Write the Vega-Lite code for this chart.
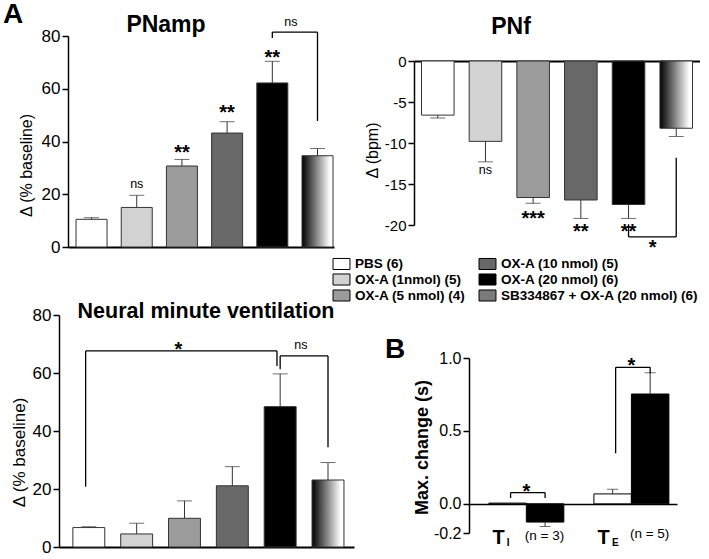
{
"$schema": "https://vega.github.io/schema/vega-lite/v6.json",
"background": "white",
"padding": {"left": 3, "top": 1, "right": 0, "bottom": 0},
"config": {
 "font": "Liberation Sans",
 "view": {"stroke": null},
 "axis": {"grid": false, "domainColor": "#000", "domainWidth": 1.5, "tickColor": "#000", "tickWidth": 1.5, "tickSize": 6, "labelColor": "#000", "titleColor": "#000", "labelFont": "Liberation Sans", "titleFont": "Liberation Sans", "titleFontWeight": "normal", "labelPadding": 2, "titlePadding": 4},
 "title": {"font": "Liberation Sans", "color": "#000", "fontWeight": "bold"},
 "text": {"font": "Liberation Sans", "color": "#000"}
},
"title": {"text": "A", "anchor": "start", "fontSize": 28, "offset": -37, "dx": -7, "baseline": "alphabetic"},
"datasets": {
 "pnamp": [
  {"group": "PBS (6)", "mean": 10.5, "tip": 11.1},
  {"group": "OX-A (1nmol) (5)", "mean": 15.0, "tip": 19.6},
  {"group": "OX-A (5 nmol) (4)", "mean": 30.7, "tip": 33.2},
  {"group": "OX-A (10 nmol) (5)", "mean": 43.2, "tip": 47.5},
  {"group": "OX-A (20 nmol) (6)", "mean": 62.2, "tip": 70.4},
  {"group": "SB334867 + OX-A (20 nmol) (6)", "mean": 34.6, "tip": 37.3}
 ],
 "pnamp_br": [
  {"a": "OX-A (20 nmol) (6)", "b": "SB334867 + OX-A (20 nmol) (6)", "y1": 81.5, "y2": 81.5},
  {"a": "OX-A (20 nmol) (6)", "b": "OX-A (20 nmol) (6)", "y1": 79.2, "y2": 81.5},
  {"a": "SB334867 + OX-A (20 nmol) (6)", "b": "SB334867 + OX-A (20 nmol) (6)", "y1": 47.8, "y2": 81.5}
 ],
 "pnamp_star": [
  {"g": "OX-A (5 nmol) (4)", "y": 37.6, "t": "**"},
  {"g": "OX-A (10 nmol) (5)", "y": 52.8, "t": "**"},
  {"g": "OX-A (20 nmol) (6)", "y": 73.7, "t": "**"}
 ],
 "pnamp_ns": [{"g": "OX-A (1nmol) (5)", "y": 24.0, "t": "ns"}],
 "pnamp_ns2": [{"g": "OX-A (20 nmol) (6)", "y": 85.4, "t": "ns"}],
 "pnf": [
  {"group": "PBS (6)", "mean": -6.6, "tip": -6.95},
  {"group": "OX-A (1nmol) (5)", "mean": -9.8, "tip": -12.3},
  {"group": "OX-A (5 nmol) (4)", "mean": -16.65, "tip": -17.35},
  {"group": "OX-A (10 nmol) (5)", "mean": -16.95, "tip": -19.2},
  {"group": "OX-A (20 nmol) (6)", "mean": -17.5, "tip": -19.2},
  {"group": "SB334867 + OX-A (20 nmol) (6)", "mean": -8.2, "tip": -9.2}
 ],
 "pnf_br": [
  {"a": "OX-A (20 nmol) (6)", "b": "SB334867 + OX-A (20 nmol) (6)", "y1": -21.45, "y2": -21.45},
  {"a": "OX-A (20 nmol) (6)", "b": "OX-A (20 nmol) (6)", "y1": -19.9, "y2": -21.45},
  {"a": "SB334867 + OX-A (20 nmol) (6)", "b": "SB334867 + OX-A (20 nmol) (6)", "y1": -11.8, "y2": -21.45}
 ],
 "pnf_star": [
  {"g": "OX-A (5 nmol) (4)", "y": -18.6, "t": "***"},
  {"g": "OX-A (10 nmol) (5)", "y": -20.2, "t": "**"},
  {"g": "OX-A (20 nmol) (6)", "y": -20.2, "t": "**"}
 ],
 "pnf_ns": [{"g": "OX-A (1nmol) (5)", "y": -13.3, "t": "ns"}],
 "pnf_star2": [{"g": "OX-A (20 nmol) (6)", "y": -22.2, "t": "*"}],
 "nmv": [
  {"group": "PBS (6)", "mean": 6.7, "tip": 7.0},
  {"group": "OX-A (1nmol) (5)", "mean": 4.5, "tip": 8.2},
  {"group": "OX-A (5 nmol) (4)", "mean": 9.9, "tip": 15.9},
  {"group": "OX-A (10 nmol) (5)", "mean": 21.1, "tip": 27.7},
  {"group": "OX-A (20 nmol) (6)", "mean": 48.4, "tip": 59.7},
  {"group": "SB334867 + OX-A (20 nmol) (6)", "mean": 23.1, "tip": 29.1}
 ],
 "nmv_br": [
  {"a": "OX-A (20 nmol) (6)", "b": "SB334867 + OX-A (20 nmol) (6)", "y1": 65.9, "y2": 65.9},
  {"a": "OX-A (20 nmol) (6)", "b": "OX-A (20 nmol) (6)", "y1": 61.3, "y2": 65.9},
  {"a": "SB334867 + OX-A (20 nmol) (6)", "b": "SB334867 + OX-A (20 nmol) (6)", "y1": 34.4, "y2": 65.9}
 ],
 "nmv_br2": [
  {"a": "PBS (6)", "b": "PBS (6)", "y1": 20.8, "y2": 67.6},
  {"a": "PBS (6)", "b": "OX-A (20 nmol) (6)", "y1": 67.6, "y2": 67.6},
  {"a": "OX-A (20 nmol) (6)", "b": "OX-A (20 nmol) (6)", "y1": 62.4, "y2": 67.6}
 ],
 "nmv_star": [{"g": "OX-A (5 nmol) (4)", "y": 69.7, "t": "*"}],
 "nmv_ns": [{"g": "OX-A (20 nmol) (6)", "y": 69.7, "t": "ns"}],
 "bt": [
  {"param": "TI", "cond": "ctrl", "mean": 0.005, "tip": null},
  {"param": "TI", "cond": "OX", "mean": -0.125, "tip": -0.155},
  {"param": "TE", "cond": "ctrl", "mean": 0.068, "tip": 0.10},
  {"param": "TE", "cond": "OX", "mean": 0.753, "tip": 0.899}
 ],
 "bt_h": [{"param": "TI", "y": 0.077}, {"param": "TE", "y": 0.936}],
 "bt_l": [{"param": "TI", "y1": 0.04, "y2": 0.077}, {"param": "TE", "y1": 0.347, "y2": 0.936}],
 "bt_r": [{"param": "TI", "y1": 0.04, "y2": 0.077}, {"param": "TE", "y1": 0.895, "y2": 0.936}],
 "bt_star": [{"param": "TI", "y": 0.118, "t": "*"}, {"param": "TE", "y": 0.98, "t": "*"}],
 "bt_T": [{"param": "TI", "y": -0.235, "t": "T"}, {"param": "TE", "y": -0.235, "t": "T"}],
 "bt_sub": [{"param": "TI", "y": -0.27, "t": "I"}, {"param": "TE", "y": -0.27, "t": "E"}],
 "bt_n": [{"param": "TI", "y": -0.22, "t": "(n = 3)"}, {"param": "TE", "y": -0.21, "t": "(n = 5)"}]
},
"spacing": 1,
"hconcat": [
 {"vconcat": [
  {
   "width": 266, "height": 186,
   "title": {"text": "PNamp", "fontSize": 23, "anchor": "middle", "dx": -35, "offset": -39.5, "baseline": "alphabetic"},
   "layer": [
    {"data": {"name": "pnamp"}, "mark": {"type": "bar", "stroke": "#333", "strokeWidth": 1},
     "encoding": {
      "x": {"field": "group", "type": "nominal", "scale": {"domain": ["PBS (6)", "OX-A (1nmol) (5)", "OX-A (5 nmol) (4)", "OX-A (10 nmol) (5)", "OX-A (20 nmol) (6)", "SB334867 + OX-A (20 nmol) (6)"], "paddingInner": 0.314, "paddingOuter": 0.1, "align": 0.89}, "axis": {"labels": false, "ticks": false, "title": null, "domainWidth": 2}},
      "y": {"field": "mean", "type": "quantitative", "title": "Δ (% baseline)", "scale": {"domain": [0, 80], "range": [186, -25], "nice": false}, "axis": {"values": [0, 20, 40, 60, 80], "labelFontSize": 17, "titleFontSize": 16, "titleY": 104, "titlePadding": 7}},
      "fill": {"condition": {"test": "datum.group === 'SB334867 + OX-A (20 nmol) (6)'", "value": {"gradient": "linear", "x1": 0, "y1": 0, "x2": 1, "y2": 0, "stops": [{"offset": 0, "color": "#000000"}, {"offset": 0.9, "color": "#ffffff"}]}}, "field": "group", "type": "nominal",
       "scale": {"domain": ["PBS (6)", "OX-A (1nmol) (5)", "OX-A (5 nmol) (4)", "OX-A (10 nmol) (5)", "OX-A (20 nmol) (6)", "SB334867 + OX-A (20 nmol) (6)"], "range": ["#ffffff", "#d2d2d2", "#9b9b9b", "#686868", "#000000", "#7a7a7a"]},
       "legend": {"orient": "none", "legendX": 266, "legendY": 195, "columns": 2, "columnPadding": 11, "rowPadding": -2.5, "padding": 0, "title": null, "symbolType": "M-1.21,-0.79H1.21V0.79H-1.21Z", "symbolSize": 196, "symbolStrokeColor": "#000", "symbolStrokeWidth": 1, "symbolOpacity": 1, "labelFont": "Liberation Sans", "labelFontSize": 13.5, "labelFontWeight": "bold", "labelColor": "#000", "labelLimit": 320, "labelOffset": 6}}
     }},
    {"data": {"name": "pnamp"}, "mark": {"type": "rule", "color": "#333", "strokeWidth": 1},
     "encoding": {"x": {"field": "group", "type": "nominal"}, "y": {"field": "mean", "type": "quantitative"}, "y2": {"field": "tip"}}},
    {"data": {"name": "pnamp"}, "mark": {"type": "tick", "color": "#333", "thickness": 1, "size": 15},
     "encoding": {"x": {"field": "group", "type": "nominal"}, "y": {"field": "tip", "type": "quantitative"}}},
    {"data": {"name": "pnamp_br"}, "mark": {"type": "rule", "color": "#000", "strokeWidth": 1.3},
     "encoding": {"x": {"field": "a", "type": "nominal"}, "x2": {"field": "b"}, "y": {"field": "y1", "type": "quantitative"}, "y2": {"field": "y2"}}},
    {"data": {"name": "pnamp_star"}, "mark": {"type": "text", "fontSize": 20, "fontWeight": "bold", "baseline": "middle", "dy": 5},
     "encoding": {"x": {"field": "g", "type": "nominal"}, "y": {"field": "y", "type": "quantitative"}, "text": {"field": "t"}}},
    {"data": {"name": "pnamp_ns"}, "mark": {"type": "text", "fontSize": 12.5, "baseline": "middle"},
     "encoding": {"x": {"field": "g", "type": "nominal"}, "y": {"field": "y", "type": "quantitative"}, "text": {"field": "t"}}},
    {"data": {"name": "pnamp_ns2"}, "mark": {"type": "text", "fontSize": 12.5, "baseline": "middle"},
     "encoding": {"x": {"field": "g", "type": "nominal", "bandPosition": 1.1}, "y": {"field": "y", "type": "quantitative"}, "text": {"field": "t"}}}
   ]
  },
  {
   "width": 286, "height": 232,
   "title": {"text": "Neural minute ventilation", "fontSize": 21.5, "anchor": "middle", "dx": -5, "offset": -33.5, "baseline": "alphabetic"},
   "layer": [
    {"data": {"name": "nmv"}, "mark": {"type": "bar", "stroke": "#333", "strokeWidth": 1},
     "encoding": {
      "x": {"field": "group", "type": "nominal", "scale": {"domain": ["PBS (6)", "OX-A (1nmol) (5)", "OX-A (5 nmol) (4)", "OX-A (10 nmol) (5)", "OX-A (20 nmol) (6)", "SB334867 + OX-A (20 nmol) (6)"], "range": [-9, 286], "paddingInner": 0.333, "paddingOuter": 0.25, "align": 0.58}, "axis": {"labels": false, "ticks": false, "title": null, "domainWidth": 2}},
      "y": {"field": "mean", "type": "quantitative", "title": "Δ (% baseline)", "scale": {"domain": [0, 80], "nice": false}, "axis": {"values": [0, 20, 40, 60, 80], "offset": 9, "labelFontSize": 17, "titleFontSize": 17, "titleY": 137, "titlePadding": 4}},
      "fill": {"condition": {"test": "datum.group === 'SB334867 + OX-A (20 nmol) (6)'", "value": {"gradient": "linear", "x1": 0, "y1": 0, "x2": 1, "y2": 0, "stops": [{"offset": 0, "color": "#000000"}, {"offset": 0.9, "color": "#ffffff"}]}}, "field": "group", "type": "nominal",
       "scale": {"domain": ["PBS (6)", "OX-A (1nmol) (5)", "OX-A (5 nmol) (4)", "OX-A (10 nmol) (5)", "OX-A (20 nmol) (6)", "SB334867 + OX-A (20 nmol) (6)"], "range": ["#ffffff", "#d2d2d2", "#9b9b9b", "#686868", "#000000", "#7a7a7a"]},
       "legend": {"orient": "none", "legendX": 266, "legendY": 195, "columns": 2, "columnPadding": 11, "rowPadding": -2.5, "padding": 0, "title": null, "symbolType": "M-1.21,-0.79H1.21V0.79H-1.21Z", "symbolSize": 196, "symbolStrokeColor": "#000", "symbolStrokeWidth": 1, "symbolOpacity": 1, "labelFont": "Liberation Sans", "labelFontSize": 13.5, "labelFontWeight": "bold", "labelColor": "#000", "labelLimit": 320, "labelOffset": 6}}
     }},
    {"data": {"name": "nmv"}, "mark": {"type": "rule", "color": "#333", "strokeWidth": 1},
     "encoding": {"x": {"field": "group", "type": "nominal"}, "y": {"field": "mean", "type": "quantitative"}, "y2": {"field": "tip"}}},
    {"data": {"name": "nmv"}, "mark": {"type": "tick", "color": "#333", "thickness": 1, "size": 15},
     "encoding": {"x": {"field": "group", "type": "nominal"}, "y": {"field": "tip", "type": "quantitative"}}},
    {"data": {"name": "nmv_br"}, "mark": {"type": "rule", "color": "#000", "strokeWidth": 1.3},
     "encoding": {"x": {"field": "a", "type": "nominal"}, "x2": {"field": "b"}, "y": {"field": "y1", "type": "quantitative"}, "y2": {"field": "y2"}}},
    {"data": {"name": "nmv_br2"}, "mark": {"type": "rule", "color": "#000", "strokeWidth": 1.3},
     "encoding": {"x": {"field": "a", "type": "nominal", "bandPosition": 0.4}, "x2": {"field": "b", "bandPosition": 0.4}, "y": {"field": "y1", "type": "quantitative"}, "y2": {"field": "y2"}}},
    {"data": {"name": "nmv_star"}, "mark": {"type": "text", "fontSize": 20, "fontWeight": "bold", "baseline": "middle", "dy": 5},
     "encoding": {"x": {"field": "g", "type": "nominal", "bandPosition": 0.31}, "y": {"field": "y", "type": "quantitative"}, "text": {"field": "t"}}},
    {"data": {"name": "nmv_ns"}, "mark": {"type": "text", "fontSize": 12.5, "baseline": "middle"},
     "encoding": {"x": {"field": "g", "type": "nominal", "bandPosition": 1.15}, "y": {"field": "y", "type": "quantitative"}, "text": {"field": "t"}}}
   ]
  }
 ], "spacing": 29},
 {"vconcat": [
  {
   "width": 286, "height": 164,
   "title": {"text": "PNf", "fontSize": 23, "anchor": "middle", "dx": -46, "offset": -2.5, "baseline": "alphabetic"},
   "layer": [
    {"data": {"name": "pnf"}, "mark": {"type": "bar", "stroke": "#333", "strokeWidth": 1},
     "encoding": {
      "x": {"field": "group", "type": "nominal", "scale": {"domain": ["PBS (6)", "OX-A (1nmol) (5)", "OX-A (5 nmol) (4)", "OX-A (10 nmol) (5)", "OX-A (20 nmol) (6)", "SB334867 + OX-A (20 nmol) (6)"], "paddingInner": 0.317, "paddingOuter": 0.157}, "axis": {"orient": "top", "labels": false, "ticks": false, "title": null, "domainWidth": 2}},
      "y": {"field": "mean", "type": "quantitative", "title": "Δ (bpm)", "scale": {"domain": [-20, 0], "nice": false}, "axis": {"values": [0, -5, -10, -15, -20], "labelExpr": "'' + datum.value", "labelFontSize": 15, "titleFontSize": 16, "titleY": 89}},
      "fill": {"condition": {"test": "datum.group === 'SB334867 + OX-A (20 nmol) (6)'", "value": {"gradient": "linear", "x1": 0, "y1": 0, "x2": 1, "y2": 0, "stops": [{"offset": 0, "color": "#000000"}, {"offset": 0.9, "color": "#ffffff"}]}}, "field": "group", "type": "nominal",
       "scale": {"domain": ["PBS (6)", "OX-A (1nmol) (5)", "OX-A (5 nmol) (4)", "OX-A (10 nmol) (5)", "OX-A (20 nmol) (6)", "SB334867 + OX-A (20 nmol) (6)"], "range": ["#ffffff", "#d2d2d2", "#9b9b9b", "#686868", "#000000", "#7a7a7a"]},
       "legend": {"orient": "none", "legendX": 266, "legendY": 195, "columns": 2, "columnPadding": 11, "rowPadding": -2.5, "padding": 0, "title": null, "symbolType": "M-1.21,-0.79H1.21V0.79H-1.21Z", "symbolSize": 196, "symbolStrokeColor": "#000", "symbolStrokeWidth": 1, "symbolOpacity": 1, "labelFont": "Liberation Sans", "labelFontSize": 13.5, "labelFontWeight": "bold", "labelColor": "#000", "labelLimit": 320, "labelOffset": 6}}
     }},
    {"data": {"name": "pnf"}, "mark": {"type": "rule", "color": "#333", "strokeWidth": 1},
     "encoding": {"x": {"field": "group", "type": "nominal"}, "y": {"field": "mean", "type": "quantitative"}, "y2": {"field": "tip"}}},
    {"data": {"name": "pnf"}, "mark": {"type": "tick", "color": "#333", "thickness": 1, "size": 15},
     "encoding": {"x": {"field": "group", "type": "nominal"}, "y": {"field": "tip", "type": "quantitative"}}},
    {"data": {"name": "pnf_br"}, "mark": {"type": "rule", "color": "#000", "strokeWidth": 1.3},
     "encoding": {"x": {"field": "a", "type": "nominal"}, "x2": {"field": "b"}, "y": {"field": "y1", "type": "quantitative"}, "y2": {"field": "y2"}}},
    {"data": {"name": "pnf_star"}, "mark": {"type": "text", "fontSize": 20, "fontWeight": "bold", "baseline": "middle", "dy": 5},
     "encoding": {"x": {"field": "g", "type": "nominal"}, "y": {"field": "y", "type": "quantitative"}, "text": {"field": "t"}}},
    {"data": {"name": "pnf_ns"}, "mark": {"type": "text", "fontSize": 12.5, "baseline": "middle"},
     "encoding": {"x": {"field": "g", "type": "nominal"}, "y": {"field": "y", "type": "quantitative"}, "text": {"field": "t"}}},
    {"data": {"name": "pnf_star2"}, "mark": {"type": "text", "fontSize": 20, "fontWeight": "bold", "baseline": "middle", "dy": 5},
     "encoding": {"x": {"field": "g", "type": "nominal", "bandPosition": 1.24}, "y": {"field": "y", "type": "quantitative"}, "text": {"field": "t"}}}
   ]
  },
  {
   "width": 263, "height": 175,
   "title": {"text": "B", "anchor": "start", "frame": "group", "fontSize": 28, "dx": -29, "offset": -36, "baseline": "alphabetic"},
   "layer": [
    {"data": {"name": "bt"}, "mark": {"type": "bar", "stroke": "#000", "strokeWidth": 1},
     "encoding": {
      "x": {"field": "param", "type": "nominal", "axis": {"orient": "bottom", "offset": -29, "labels": false, "ticks": false, "title": null, "domainWidth": 1.5}, "scale": {"domain": ["TI", "TE"], "range": [55, 263], "paddingInner": 0.286, "paddingOuter": 0.133, "align": 0.71}},
      "xOffset": {"field": "cond", "type": "nominal", "scale": {"domain": ["ctrl", "OX"], "paddingInner": 0, "paddingOuter": 0}},
      "y": {"field": "mean", "type": "quantitative", "title": "Max. change (s)", "scale": {"domain": [-0.2, 1.0], "nice": false}, "axis": {"values": [-0.2, 0, 0.5, 1], "offset": -55, "labelExpr": "replace(format(datum.value, '.1f'), '−', '-')", "labelFontSize": 16, "titleFontSize": 18, "titleFontWeight": "bold", "titleY": 89, "titlePadding": 2}},
      "fill": {"condition": {"test": "datum.cond === 'OX'", "value": "#000000"}, "value": "#ffffff"}
     }},
    {"data": {"name": "bt"}, "transform": [{"filter": "isValid(datum.tip)"}], "mark": {"type": "rule", "color": "#333", "strokeWidth": 1},
     "encoding": {"x": {"field": "param", "type": "nominal"}, "xOffset": {"field": "cond", "type": "nominal"}, "y": {"field": "mean", "type": "quantitative"}, "y2": {"field": "tip"}}},
    {"data": {"name": "bt"}, "transform": [{"filter": "isValid(datum.tip)"}], "mark": {"type": "tick", "color": "#333", "thickness": 1, "size": 11},
     "encoding": {"x": {"field": "param", "type": "nominal"}, "xOffset": {"field": "cond", "type": "nominal"}, "y": {"field": "tip", "type": "quantitative"}}},
    {"data": {"name": "bt_h"}, "mark": {"type": "rule", "color": "#000", "strokeWidth": 1.3},
     "encoding": {"x": {"field": "param", "type": "nominal", "bandPosition": 0.29}, "x2": {"field": "param", "bandPosition": 0.75}, "y": {"field": "y", "type": "quantitative"}}},
    {"data": {"name": "bt_l"}, "mark": {"type": "rule", "color": "#000", "strokeWidth": 1.3},
     "encoding": {"x": {"field": "param", "type": "nominal", "bandPosition": 0.29}, "y": {"field": "y1", "type": "quantitative"}, "y2": {"field": "y2"}}},
    {"data": {"name": "bt_r"}, "mark": {"type": "rule", "color": "#000", "strokeWidth": 1.3},
     "encoding": {"x": {"field": "param", "type": "nominal", "bandPosition": 0.75}, "y": {"field": "y1", "type": "quantitative"}, "y2": {"field": "y2"}}},
    {"data": {"name": "bt_star"}, "mark": {"type": "text", "fontSize": 20, "fontWeight": "bold", "baseline": "middle", "dy": 5},
     "encoding": {"x": {"field": "param", "type": "nominal"}, "y": {"field": "y", "type": "quantitative"}, "text": {"field": "t"}}},
    {"data": {"name": "bt_T"}, "mark": {"type": "text", "fontSize": 20, "fontWeight": "bold", "baseline": "middle"},
     "encoding": {"x": {"field": "param", "type": "nominal", "bandPosition": 0.13}, "y": {"field": "y", "type": "quantitative"}, "text": {"field": "t"}}},
    {"data": {"name": "bt_sub"}, "mark": {"type": "text", "fontSize": 10, "fontWeight": "bold", "baseline": "middle", "align": "left"},
     "encoding": {"x": {"field": "param", "type": "nominal", "bandPosition": 0.24}, "y": {"field": "y", "type": "quantitative"}, "text": {"field": "t"}}},
    {"data": {"name": "bt_n"}, "mark": {"type": "text", "fontSize": 13.5, "baseline": "middle", "align": "left"},
     "encoding": {"x": {"field": "param", "type": "nominal", "bandPosition": 0.48}, "y": {"field": "y", "type": "quantitative"}, "text": {"field": "t"}}}
   ]
  }
 ], "spacing": 77}
]
}
